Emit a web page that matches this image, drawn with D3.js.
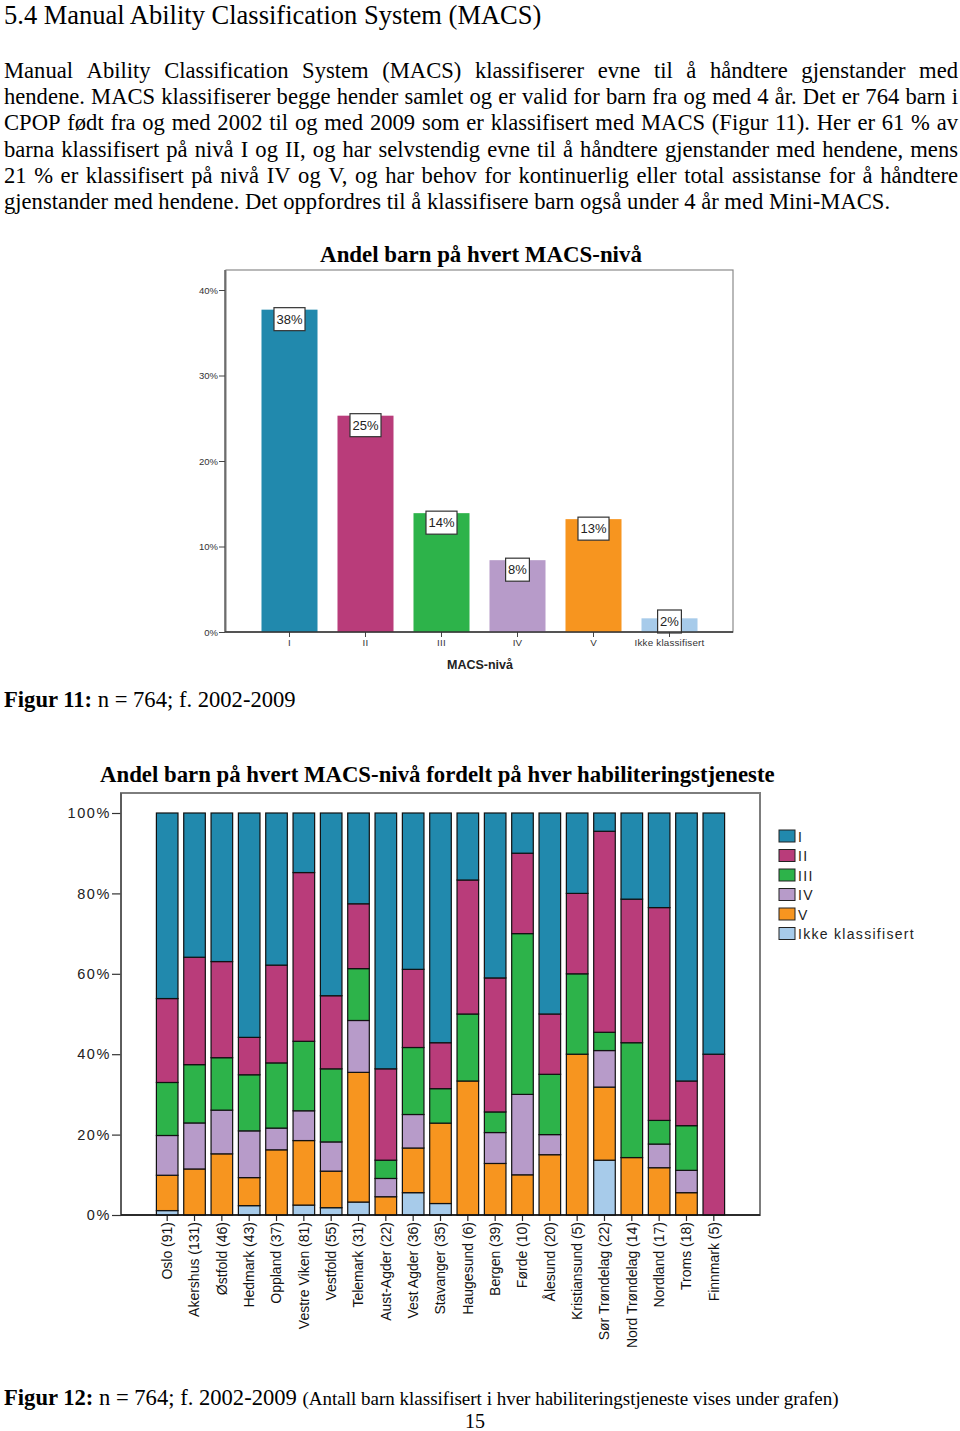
<!DOCTYPE html>
<html>
<head>
<meta charset="utf-8">
<script src="https://cdn.jsdelivr.net/npm/d3@7"></script>
<style>
  html, body { margin: 0; padding: 0; background: #fff; }
  svg { display: block; }
</style>
</head>
<body>
<svg id="page" width="960" height="1431"></svg>
<script>
// ---------- DATA ----------
const macsLevels = ["I", "II", "III", "IV", "V", "Ikke klassifisert"];
const macsShare = [37.7, 25.3, 13.9, 8.4, 13.2, 1.6];          // percent
const macsLabels = ["38%", "25%", "14%", "8%", "13%", "2%"];
const yTicks1 = [0, 10, 20, 30, 40];

const services = ["Oslo (91)", "Akershus (131)", "Østfold (46)", "Hedmark (43)", "Oppland (37)",
  "Vestre Viken (81)", "Vestfold (55)", "Telemark (31)", "Aust-Agder (22)", "Vest Agder (36)",
  "Stavanger (35)", "Haugesund (6)", "Bergen (39)", "Førde (10)", "Ålesund (20)", "Kristiansund (5)",
  "Sør Trøndelag (22)", "Nord Trøndelag (14)", "Nordland (17)", "Troms (18)", "Finnmark (5)"];
const countI    = [42, 47, 17, 24, 14, 12, 25, 7, 14, 14, 20, 1, 16, 1, 10, 1, 1, 3, 4, 12, 3];
const countII   = [19, 35, 11, 4, 9, 34, 10, 5, 5, 7, 4, 2, 13, 2, 3, 1, 11, 5, 9, 2, 2];
const countIII  = [12, 19, 6, 6, 6, 14, 10, 4, 1, 6, 3, 1, 2, 4, 3, 1, 1, 4, 1, 2, 0];
const countIV   = [9, 15, 5, 5, 2, 6, 4, 4, 1, 3, 0, 0, 3, 2, 1, 0, 2, 0, 1, 1, 0];
const countV    = [8, 15, 7, 3, 6, 13, 5, 10, 1, 4, 7, 2, 5, 1, 3, 2, 4, 2, 2, 1, 0];
const countIkke = [1, 0, 0, 1, 0, 2, 1, 1, 0, 2, 1, 0, 0, 0, 0, 0, 3, 0, 0, 0, 0];
const yTicks2 = [0, 0.2, 0.4, 0.6, 0.8, 1.0];

const levelColors = ["#2189ad", "#b93c7a", "#2db34a", "#b79bc9", "#f7951f", "#a7cbea"];

// ---------- TEXT ----------
const heading = "5.4 Manual Ability Classification System (MACS)";
const paraLines = [
  "Manual Ability Classification System (MACS) klassifiserer evne til å håndtere gjenstander med",
  "hendene. MACS klassifiserer begge hender samlet og er valid for barn fra og med 4 år. Det er 764 barn i",
  "CPOP født fra og med 2002 til og med 2009 som er klassifisert med MACS (Figur 11). Her er 61 % av",
  "barna klassifisert på nivå I og II, og har selvstendig evne til å håndtere gjenstander med hendene, mens",
  "21 % er klassifisert på nivå IV og V, og har behov for kontinuerlig eller total assistanse for å håndtere",
  "gjenstander med hendene. Det oppfordres til å klassifisere barn også under 4 år med Mini-MACS."
];

const svg = d3.select("#page");
svg.append("rect").attr("width", 960).attr("height", 1431).attr("fill", "#fff");

const serif = "'Liberation Serif', 'Times New Roman', serif";
const sans = "'Liberation Sans', Arial, sans-serif";

svg.append("text").attr("x", 4).attr("y", 23.5)
  .style("font-family", serif).style("font-size", "26.5px").attr("fill", "#000")
  .text(heading);

// justified paragraph
const paraG = svg.append("g").style("font-family", serif).style("font-size", "22.6px");
paraLines.forEach((line, i) => {
  const y = 78 + i * 26.2;
  const words = line.split(" ");
  const nodes = words.map(w => paraG.append("text").attr("y", y).attr("fill", "#000").text(w));
  const widths = nodes.map(n => n.node().getComputedTextLength());
  const total = d3.sum(widths);
  const last = i === paraLines.length - 1;
  const gap = last ? 5.65 : (958 - 4 - total) / (words.length - 1);
  let x = 4;
  nodes.forEach((n, k) => { n.attr("x", x); x += widths[k] + gap; });
});

// ---------- CHART 1 ----------
const c1 = { left: 226, right: 733, top: 270, bottom: 632 };
svg.append("text").attr("x", 481).attr("y", 262).attr("text-anchor", "middle")
  .style("font-family", serif).style("font-size", "22.9px").style("font-weight", "bold")
  .text("Andel barn på hvert MACS-nivå");

svg.append("rect").attr("x", c1.left).attr("y", c1.top)
  .attr("width", c1.right - c1.left).attr("height", c1.bottom - c1.top)
  .attr("fill", "none").attr("stroke", "#8a8a8a").attr("stroke-width", 1.2);

const x1 = d3.scaleBand().domain(macsLevels).range([c1.left, c1.right])
  .paddingInner(0.263).paddingOuter(0.467);
const y1 = d3.scaleLinear().domain([0, 40]).range([c1.bottom, 290]);

const g1 = svg.append("g");
g1.selectAll("rect.bar").data(macsLevels).enter().append("rect")
  .attr("x", d => x1(d)).attr("width", x1.bandwidth())
  .attr("y", (d, i) => y1(macsShare[i]))
  .attr("height", (d, i) => y1(0) - y1(macsShare[i]))
  .attr("fill", (d, i) => levelColors[i]);

// value labels
macsLevels.forEach((d, i) => {
  const cx = x1(d) + x1.bandwidth() / 2;
  const t = g1.append("text").attr("x", cx).attr("text-anchor", "middle")
    .style("font-family", sans).style("font-size", "13px").attr("fill", "#222")
    .text(macsLabels[i]);
  const w = t.node().getComputedTextLength() + 5;
  const h = 23;
  const top = Math.min(y1(macsShare[i]) - 2, y1(0) - h + 1);
  g1.insert("rect", () => t.node()).attr("x", cx - w / 2).attr("y", top).attr("width", w).attr("height", h)
    .attr("fill", "#fff").attr("stroke", "#333").attr("stroke-width", 1.2);
  t.attr("y", top + h / 2 + 4.5);
});

const ax1y = svg.append("g").attr("transform", `translate(${c1.left - 1},0)`)
  .call(d3.axisLeft(y1).tickValues(yTicks1).tickFormat(d => d + "%").tickSize(6).tickSizeOuter(0));
ax1y.select(".domain").remove();
ax1y.selectAll("line").attr("stroke", "#444");
ax1y.selectAll("text").style("font-family", sans).style("font-size", "9.5px").attr("fill", "#333").attr("x", -7);
svg.append("line").attr("x1", c1.left - 1).attr("x2", c1.left - 1).attr("y1", c1.top).attr("y2", c1.bottom)
  .attr("stroke", "#444").attr("stroke-width", 1.3);

const ax1x = svg.append("g").attr("transform", `translate(0,${c1.bottom})`)
  .call(d3.axisBottom(x1).tickSize(5).tickSizeOuter(0));
ax1x.select(".domain").remove();
ax1x.selectAll("line").attr("stroke", "#444");
ax1x.selectAll("text").style("font-family", sans).style("font-size", "9.8px").style("letter-spacing", "0.2px")
  .attr("fill", "#333").attr("y", 7);
svg.append("line").attr("x1", c1.left - 1).attr("x2", c1.right).attr("y1", c1.bottom).attr("y2", c1.bottom)
  .attr("stroke", "#333").attr("stroke-width", 1.3);

svg.append("text").attr("x", 480).attr("y", 669).attr("text-anchor", "middle")
  .style("font-family", sans).style("font-size", "12.5px").style("font-weight", "bold").attr("fill", "#222")
  .text("MACS-nivå");

// caption 11
const cap11 = svg.append("text").attr("x", 4).attr("y", 707).style("font-family", serif).style("font-size", "22.6px");
cap11.append("tspan").style("font-weight", "bold").text("Figur 11:");
cap11.append("tspan").text(" n = 764; f. 2002-2009");

// ---------- CHART 2 ----------
const c2 = { left: 121, right: 760, top: 793, bottom: 1215 };
svg.append("text").attr("x", 100).attr("y", 782)
  .style("font-family", serif).style("font-size", "22.8px").style("font-weight", "bold")
  .text("Andel barn på hvert MACS-nivå fordelt på hver habiliteringstjeneste");

svg.append("rect").attr("x", c2.left).attr("y", c2.top)
  .attr("width", c2.right - c2.left).attr("height", c2.bottom - c2.top)
  .attr("fill", "none").attr("stroke", "#7d7d7d").attr("stroke-width", 2);

const table = services.map((s, i) => ({
  service: s, I: countI[i], II: countII[i], III: countIII[i], IV: countIV[i], V: countV[i], Ikke: countIkke[i]
}));
const stackKeys = ["Ikke", "V", "IV", "III", "II", "I"];
const keyColor = { I: levelColors[0], II: levelColors[1], III: levelColors[2], IV: levelColors[3], V: levelColors[4], Ikke: levelColors[5] };
const stacked = d3.stack().keys(stackKeys).offset(d3.stackOffsetExpand)(table);

const x2 = d3.scaleBand().domain(services).range([c2.left, c2.right]).paddingInner(0.21).paddingOuter(1.295);
const y2 = d3.scaleLinear().domain([0, 1]).range([c2.bottom, 813]);

const g2 = svg.append("g");
stacked.forEach(layer => {
  g2.selectAll(null).data(layer.filter(d => d[1] - d[0] > 0)).enter().append("rect")
    .attr("x", d => x2(d.data.service)).attr("width", x2.bandwidth())
    .attr("y", d => y2(d[1])).attr("height", d => y2(d[0]) - y2(d[1]))
    .attr("fill", keyColor[layer.key]).attr("stroke", "#111").attr("stroke-width", 1.2);
});

const ax2y = svg.append("g").attr("transform", `translate(${c2.left},0)`)
  .call(d3.axisLeft(y2).tickValues(yTicks2).tickFormat(d3.format(".0%")).tickSize(9).tickSizeOuter(0));
ax2y.select(".domain").remove();
ax2y.selectAll("line").attr("stroke", "#333").attr("stroke-width", 1.2);
ax2y.selectAll("text").style("font-family", sans).style("font-size", "14.5px").style("letter-spacing", "1.6px")
  .attr("fill", "#222").attr("x", -10);
svg.append("line").attr("x1", c2.left).attr("x2", c2.left).attr("y1", c2.top).attr("y2", c2.bottom)
  .attr("stroke", "#555").attr("stroke-width", 1.6);

const ax2x = svg.append("g").attr("transform", `translate(0,${c2.bottom})`)
  .call(d3.axisBottom(x2).tickSize(6).tickSizeOuter(0));
ax2x.select(".domain").remove();
ax2x.selectAll("line").attr("stroke", "#222").attr("stroke-width", 1.2);
ax2x.selectAll("text")
  .style("font-family", sans).style("font-size", "14px").attr("fill", "#111")
  .attr("text-anchor", "end").attr("transform", "rotate(-90)")
  .attr("x", -7).attr("y", 0).attr("dy", "0.35em");
svg.append("line").attr("x1", c2.left).attr("x2", c2.right).attr("y1", c2.bottom).attr("y2", c2.bottom)
  .attr("stroke", "#111").attr("stroke-width", 1.6);

// legend
const legendNames = ["I", "II", "III", "IV", "V", "Ikke klassifisert"];
const lg = svg.append("g");
legendNames.forEach((n, i) => {
  const y = 830 + i * 19.5;
  lg.append("rect").attr("x", 779).attr("y", y).attr("width", 16).attr("height", 12)
    .attr("fill", levelColors[i]).attr("stroke", "#222").attr("stroke-width", 1);
  lg.append("text").attr("x", 798).attr("y", y + 11.5).style("font-family", sans).style("font-size", "14px")
    .style("letter-spacing", "1.3px").attr("fill", "#222").text(n);
});

// caption 12
const cap12 = svg.append("text").attr("x", 4).attr("y", 1405).style("font-family", serif).style("font-size", "22.6px");
cap12.append("tspan").style("font-weight", "bold").text("Figur 12:");
cap12.append("tspan").text(" n = 764; f. 2002-2009 ");
cap12.append("tspan").style("font-size", "19px").text("(Antall barn klassifisert i hver habiliteringstjeneste vises under grafen)");

svg.append("text").attr("x", 475).attr("y", 1428).attr("text-anchor", "middle")
  .style("font-family", serif).style("font-size", "20px").text("15");
</script>
</body>
</html>
